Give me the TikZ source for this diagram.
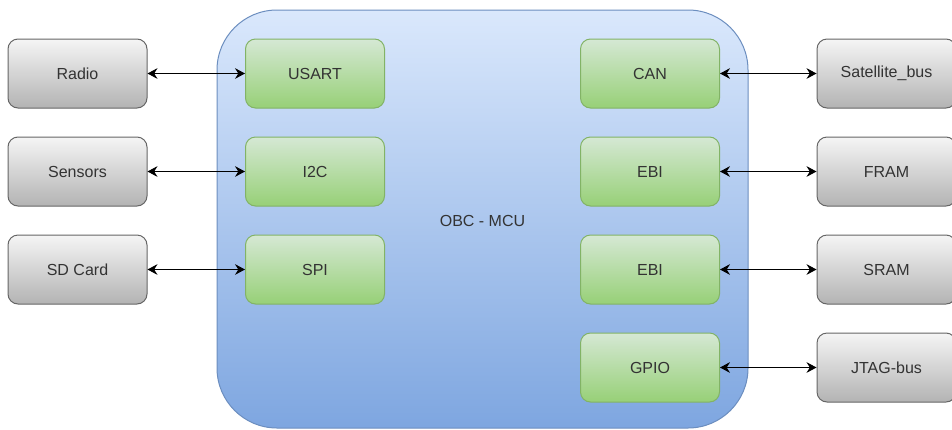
\documentclass[tikz,border=0pt]{standalone}
\usepackage{fontspec}
\setmainfont{Liberation Sans}
\usetikzlibrary{arrows.meta}
\definecolor{grayedge}{HTML}{666666}
\definecolor{graytop}{HTML}{F5F5F5}
\definecolor{graybot}{HTML}{B3B3B3}
\definecolor{greenedge}{HTML}{82B366}
\definecolor{greentop}{HTML}{D5E8D4}
\definecolor{greenbot}{HTML}{97D077}
\definecolor{blueedge}{HTML}{6C8EBF}
\definecolor{bluetop}{HTML}{DAE8FC}
\definecolor{bluebot}{HTML}{7EA6E0}
\definecolor{textgray}{HTML}{333333}
\tikzset{
  boxfont/.style={text=textgray, font=\fontsize{12}{14}\selectfont},
  devbox/.style={draw=grayedge, line width=0.75pt, top color=graytop, bottom color=graybot,
    rounded corners=7.5pt, minimum width=104.25pt, minimum height=51.75pt, inner sep=0pt, boxfont},
  periph/.style={draw=greenedge, line width=0.75pt, top color=greentop, bottom color=greenbot,
    rounded corners=7.5pt, minimum width=104.25pt, minimum height=51.75pt, inner sep=0pt, boxfont},
  mcubox/.style={draw=blueedge, line width=0.75pt, top color=bluetop, bottom color=bluebot,
    rounded corners=45pt, minimum width=398.25pt, minimum height=313.5pt, inner sep=0pt},
  link/.style={line width=0.75pt, black, {Stealth[length=7.5pt,width=8pt,inset=2.5pt]}-{Stealth[length=7.5pt,width=8pt,inset=2.5pt]}}
}
\begin{document}
\begin{tikzpicture}[x=0.75pt, y=-0.75pt]
\useasboundingbox (0,0) rectangle (952,429);
% microcontroller body
\node[mcubox] (mcu) at (482.5,219) {};
\node[boxfont] (mculabel) at (482.5,221) {OBC - MCU};
% left-side peripherals and devices
\node[devbox] (radio) at (77.5,73.5) {Radio};
\node[devbox] (sensors) at (77.5,171.5) {Sensors};
\node[devbox] (sd) at (77.5,269.5) {SD Card};
\node[periph] (usart) at (315,73.5) {USART};
\node[periph] (i2c) at (315,171.5) {I2C};
\node[periph] (spi) at (315,269.5) {SPI};
% right-side peripherals and devices
\node[periph] (can) at (650,73.5) {CAN};
\node[periph] (ebi1) at (650,171.5) {EBI};
\node[periph] (ebi2) at (650,269.5) {EBI};
\node[periph] (gpio) at (650,367.5) {GPIO};
\node[devbox] (satbus) at (886.5,73.5) {Satellite\_bus};
\node[devbox] (fram) at (886.5,171.5) {FRAM};
\node[devbox] (sram) at (886.5,269.5) {SRAM};
\node[devbox] (jtag) at (886.5,367.5) {JTAG-bus};
% bidirectional links
\draw[link] (radio) -- (usart);
\draw[link] (sensors) -- (i2c);
\draw[link] (sd) -- (spi);
\draw[link] (can) -- (satbus);
\draw[link] (ebi1) -- (fram);
\draw[link] (ebi2) -- (sram);
\draw[link] (gpio) -- (jtag);
\end{tikzpicture}
\end{document}
